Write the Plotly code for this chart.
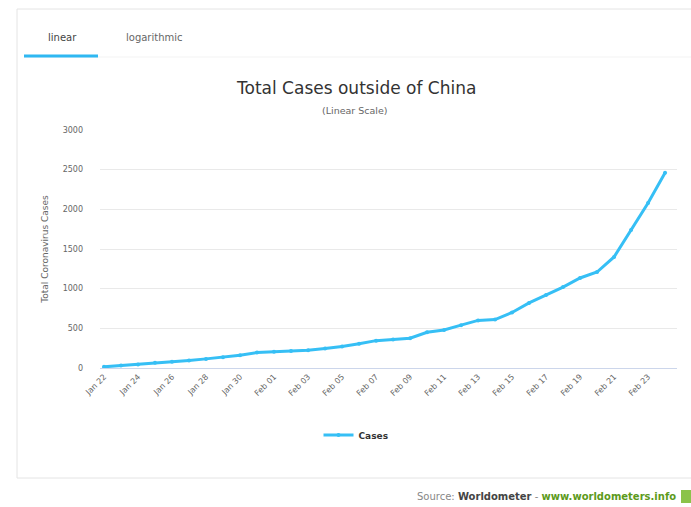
import plotly.graph_objects as go

# Daily totals of confirmed cases outside mainland China
dates = [
    "2020-01-22", "2020-01-23", "2020-01-24", "2020-01-25", "2020-01-26",
    "2020-01-27", "2020-01-28", "2020-01-29", "2020-01-30", "2020-01-31",
    "2020-02-01", "2020-02-02", "2020-02-03", "2020-02-04", "2020-02-05",
    "2020-02-06", "2020-02-07", "2020-02-08", "2020-02-09", "2020-02-10",
    "2020-02-11", "2020-02-12", "2020-02-13", "2020-02-14", "2020-02-15",
    "2020-02-16", "2020-02-17", "2020-02-18", "2020-02-19", "2020-02-20",
    "2020-02-21", "2020-02-22", "2020-02-23", "2020-02-24",
]
cases = [
    15, 30, 45, 65, 80, 95, 115, 135, 160, 195,
    205, 215, 225, 245, 270, 305, 345, 360, 375, 450,
    480, 540, 600, 610, 700, 820, 920, 1020, 1135, 1210,
    1400, 1740, 2080, 2460,
]
series_name = "Cases"
y_ticks = [0, 500, 1000, 1500, 2000, 2500, 3000]

W, H = 691, 507
L, R, T, B = 100, 677, 130, 368  # plot area in pixels


def px(x):
    return (x - L) / (R - L)


def py(y):
    return (B - y) / (B - T)


FONT = "DejaVu Sans"
LINE_COLOR = "#36bff5"

fig = go.Figure()
fig.add_trace(go.Scatter(
    x=dates, y=cases, name=series_name, mode="lines+markers",
    line=dict(color=LINE_COLOR, width=3),
    marker=dict(color=LINE_COLOR, size=4),
))

fig.update_layout(
    width=W, height=H,
    margin=dict(l=L, r=W - R, t=T, b=H - B, pad=0),
    paper_bgcolor="white", plot_bgcolor="white",
    font=dict(family=FONT, color="#666666"),
    showlegend=True,
    legend=dict(
        orientation="h", x=px(356), xanchor="center", y=py(435), yanchor="middle",
        font=dict(family=FONT, size=9, color="#333333", weight="bold"),
        itemwidth=30, bgcolor="rgba(0,0,0,0)",
    ),
    xaxis=dict(
        type="date",
        range=["2020-01-21 18:20", "2020-02-24 16:50"],
        tick0="2020-01-22", dtick=2 * 86400000, tickformat="%b %d",
        tickangle=-45, tickfont=dict(size=8, color="#666666"),
        showgrid=False, showline=True, linecolor="#ccd6eb", linewidth=1,
        ticks="", zeroline=False,
    ),
    yaxis=dict(
        range=[0, 3000], tickvals=y_ticks,
        tickfont=dict(size=8, color="#666666"),
        gridcolor="#e9e9e9", gridwidth=1, zeroline=False, showline=False,
        ticks="", ticklen=0, ticklabelstandoff=16,
        title=dict(text="Total Coronavirus Cases", standoff=12,
                   font=dict(size=9, color="#666666")),
    ),
)

shapes = [
    # card outline
    dict(type="rect", xref="paper", yref="paper",
         x0=px(17), x1=px(700), y0=py(478), y1=py(9),
         line=dict(color="#e4e4e4", width=1), fillcolor="rgba(0,0,0,0)", layer="below"),
    # tab strip separator
    dict(type="line", xref="paper", yref="paper",
         x0=px(24), x1=px(691), y0=py(57), y1=py(57),
         line=dict(color="#f3f3f3", width=1)),
    # active tab underline
    dict(type="line", xref="paper", yref="paper",
         x0=px(24), x1=px(98), y0=py(56), y1=py(56),
         line=dict(color="#2fb8f2", width=3)),
    # source badge
    dict(type="rect", xref="paper", yref="paper",
         x0=px(681), x1=px(691), y0=py(503), y1=py(490),
         line=dict(width=0), fillcolor="#8bc34a"),
]
fig.update_layout(shapes=shapes)

annotations = [
    dict(text="linear", x=px(62), y=py(37), font=dict(size=10, color="#444444")),
    dict(text="logarithmic", x=px(154), y=py(37), font=dict(size=10, color="#666666")),
    dict(text="Total Cases outside of China", x=px(356), y=py(88),
         font=dict(size=17, color="#333333")),
    dict(text="(Linear Scale)", x=px(355), y=py(110),
         font=dict(size=9.5, color="#666666")),
    dict(text=("<span style='color:#888888'>Source: </span>"
               "<b style='color:#444444'>Worldometer</b>"
               "<span style='color:#888888'> - </span>"
               "<b style='color:#5c9a1b'>www.worldometers.info</b>"),
         x=px(678), y=py(497), xanchor="right", font=dict(size=10)),
]
for a in annotations:
    a.setdefault("xanchor", "center")
    a.update(xref="paper", yref="paper", yanchor="middle", showarrow=False)
fig.update_layout(annotations=annotations)

fig.write_html("out.html")
